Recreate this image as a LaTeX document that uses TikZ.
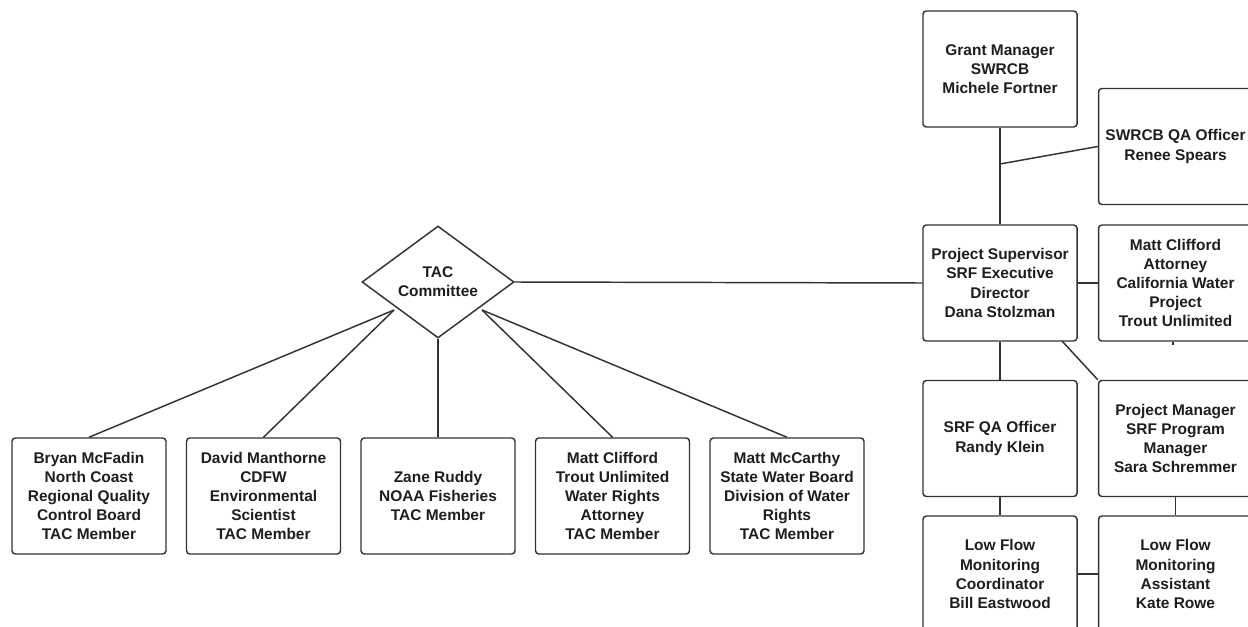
\documentclass[tikz,border=0pt]{standalone}
\usepackage{fontspec}
\setmainfont{Liberation Sans}
\usetikzlibrary{shapes.geometric}
\definecolor{edge}{HTML}{333333}
\definecolor{ink}{HTML}{1E1E1E}
\tikzset{
  box/.style={draw=edge, line width=1.1pt, rounded corners=2.5pt, fill=white,
    minimum width=115.5pt, minimum height=87pt, inner sep=0pt, align=center,
    text=ink, font=\bfseries\fontsize{11.6pt}{14.3pt}\selectfont},
  tacbox/.style={draw=edge, line width=1.1pt, shape=diamond, fill=white,
    minimum width=114pt, minimum height=84pt, inner sep=0pt, aspect=1.357, align=center,
    text=ink, font=\bfseries\fontsize{11.6pt}{14.3pt}\selectfont},
  link/.style={draw=edge, line width=1.1pt}
}
\begin{document}
\begin{tikzpicture}[x=0.75pt,y=-0.75pt]
\useasboundingbox (0,0) rectangle (1248,627);
\clip (0,0) rectangle (1248,627);
\fill[white] (0,0) rectangle (1248,627);
% right column
\node[box] (gm) at (1000,69) {Grant Manager\\SWRCB\\Michele Fortner};
\node[box] (swqa) at (1175.5,146.5) {SWRCB QA Officer\\Renee Spears};
\node[box] (ps) at (1000,283) {Project Supervisor\\SRF Executive\\Director\\Dana Stolzman};
\node[box] (mc) at (1175.5,283) {Matt Clifford\\Attorney\\California Water\\Project\\Trout Unlimited};
\node[box] (srfqa) at (1000,438.5) {SRF QA Officer\\Randy Klein};
\node[box] (pm) at (1175.5,438.5) {Project Manager\\SRF Program\\Manager\\Sara Schremmer};
\node[box] (lfc) at (1000,574) {Low Flow\\Monitoring\\Coordinator\\Bill Eastwood};
\node[box] (lfa) at (1175.5,574) {Low Flow\\Monitoring\\Assistant\\Kate Rowe};
% TAC
\node[tacbox] (tac) at (438,282) {TAC\\Committee};
\node[box] (b1) at (89,496) {Bryan McFadin\\North Coast\\Regional Quality\\Control Board\\TAC Member};
\node[box] (b2) at (263.5,496) {David Manthorne\\CDFW\\Environmental\\Scientist\\TAC Member};
\node[box] (b3) at (438,496) {Zane Ruddy\\NOAA Fisheries\\TAC Member};
\node[box] (b4) at (612.5,496) {Matt Clifford\\Trout Unlimited\\Water Rights\\Attorney\\TAC Member};
\node[box] (b5) at (787,496) {Matt McCarthy\\State Water Board\\Division of Water\\Rights\\TAC Member};
% connectors
\coordinate (j1) at (1000,164);
\coordinate (psd) at (1062,341);
\coordinate (tick) at (1173,345);
\coordinate (tl) at (394,310);
\coordinate (tr) at (482,310);
\draw[link] (gm.south) -- (ps.north);
\draw[link] (swqa.west) -- (j1);
\draw[link] (ps.east) -- (mc.west);
\draw[link] (ps.west) -- (tac.east);
\draw[link] (psd) -- (pm.north west);
\draw[link] (ps.south) -- (srfqa.north);
\draw[link] (srfqa.south) -- (lfc.north);
\draw[link] (pm.south) -- (lfa.north);
\draw[link] (lfc.east) -- (lfa.west);
\draw[link] (mc.south -| tick) -- (tick);
\draw[link] (tl) -- (b1.north);
\draw[link] (tl) -- (b2.north);
\draw[link] (tac.south) -- (b3.north);
\draw[link] (tr) -- (b4.north);
\draw[link] (tr) -- (b5.north);
\end{tikzpicture}
\end{document}
